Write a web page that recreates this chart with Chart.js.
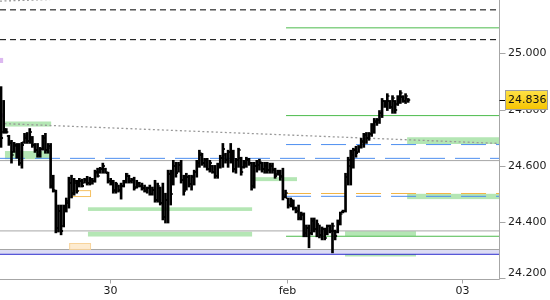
<!DOCTYPE html>
<html>
<head>
<meta charset="utf-8">
<script src="https://cdn.jsdelivr.net/npm/chart.js@4/dist/chart.umd.min.js"></script>
<style>
body { margin: 0; background: #fff; }
#box { width: 550px; height: 300px; }
</style>
</head>
<body>
<div id="box"><canvas id="chart"></canvas></div>
<script>
// price bars, one per period
const highs = [
  24.882, 24.833, 24.733, 24.709, 24.691, 24.684, 24.680, 24.680, 24.684, 24.716,
  24.719, 24.733, 24.705, 24.680, 24.680, 24.666, 24.709, 24.716, 24.680, 24.680,
  24.567, 24.514, 24.461, 24.461, 24.461, 24.486, 24.560, 24.567, 24.556, 24.549,
  24.556, 24.553, 24.556, 24.563, 24.560, 24.556, 24.585, 24.592, 24.595, 24.610,
  24.592, 24.578, 24.556, 24.549, 24.542, 24.532, 24.539, 24.549, 24.574, 24.567,
  24.556, 24.560, 24.549, 24.542, 24.539, 24.532, 24.525, 24.532, 24.525, 24.549,
  24.539, 24.525, 24.539, 24.503, 24.585, 24.585, 24.620, 24.613, 24.613, 24.620,
  24.567, 24.574, 24.567, 24.567, 24.585, 24.620, 24.656, 24.645, 24.627, 24.627,
  24.620, 24.602, 24.602, 24.610, 24.638, 24.680, 24.645, 24.656, 24.680, 24.656,
  24.627, 24.663, 24.631, 24.620, 24.631, 24.627, 24.613, 24.613, 24.620, 24.624,
  24.613, 24.613, 24.613, 24.610, 24.610, 24.592, 24.585, 24.585, 24.592, 24.514,
  24.486, 24.486, 24.479, 24.454, 24.461, 24.436, 24.433, 24.390, 24.390, 24.415,
  24.415, 24.408, 24.390, 24.383, 24.379, 24.390, 24.390, 24.397, 24.372, 24.408,
  24.436, 24.443, 24.574, 24.631, 24.656, 24.663, 24.670, 24.673, 24.698, 24.716,
  24.719, 24.719, 24.751, 24.769, 24.769, 24.797, 24.840, 24.833, 24.857, 24.833,
  24.850, 24.833, 24.850, 24.868, 24.850, 24.857, 24.840
];
const lows = [
  24.666, 24.716, 24.716, 24.673, 24.610, 24.648, 24.627, 24.602, 24.592, 24.680,
  24.680, 24.680, 24.666, 24.648, 24.631, 24.631, 24.656, 24.645, 24.645, 24.521,
  24.507, 24.362, 24.365, 24.355, 24.383, 24.436, 24.450, 24.486, 24.496, 24.503,
  24.525, 24.525, 24.539, 24.532, 24.532, 24.535, 24.542, 24.560, 24.574, 24.574,
  24.574, 24.539, 24.532, 24.503, 24.503, 24.507, 24.482, 24.525, 24.539, 24.539,
  24.539, 24.514, 24.521, 24.525, 24.514, 24.507, 24.503, 24.496, 24.496, 24.471,
  24.471, 24.461, 24.408, 24.397, 24.397, 24.461, 24.532, 24.560, 24.578, 24.539,
  24.496, 24.514, 24.525, 24.514, 24.532, 24.560, 24.595, 24.602, 24.595, 24.585,
  24.578, 24.574, 24.556, 24.556, 24.592, 24.595, 24.610, 24.595, 24.610, 24.578,
  24.574, 24.595, 24.567, 24.592, 24.595, 24.602, 24.514, 24.521, 24.578, 24.585,
  24.578, 24.574, 24.574, 24.574, 24.574, 24.556, 24.567, 24.549, 24.479, 24.486,
  24.450, 24.454, 24.443, 24.433, 24.408, 24.408, 24.348, 24.348, 24.309, 24.355,
  24.365, 24.348, 24.344, 24.337, 24.337, 24.355, 24.362, 24.291, 24.337, 24.362,
  24.390, 24.433, 24.436, 24.532, 24.532, 24.592, 24.631, 24.648, 24.663, 24.666,
  24.680, 24.691, 24.705, 24.716, 24.744, 24.751, 24.772, 24.808, 24.797, 24.804,
  24.787, 24.787, 24.815, 24.822, 24.826, 24.822, 24.826
];
const opens = [
  24.870, 24.720, 24.730, 24.705, 24.685, 24.650, 24.672, 24.645, 24.610, 24.685,
  24.700, 24.690, 24.700, 24.675, 24.655, 24.640, 24.660, 24.700, 24.655, 24.665,
  24.530, 24.510, 24.380, 24.440, 24.385, 24.445, 24.470, 24.540, 24.505, 24.540,
  24.530, 24.545, 24.540, 24.550, 24.540, 24.550, 24.545, 24.575, 24.578, 24.590,
  24.590, 24.575, 24.545, 24.540, 24.515, 24.530, 24.515, 24.530, 24.545, 24.565,
  24.545, 24.550, 24.525, 24.540, 24.530, 24.520, 24.512, 24.520, 24.500, 24.515,
  24.480, 24.520, 24.470, 24.420, 24.480, 24.570, 24.540, 24.600, 24.580, 24.605,
  24.550, 24.515, 24.560, 24.535, 24.560, 24.580, 24.610, 24.640, 24.610, 24.620,
  24.590, 24.600, 24.580, 24.565, 24.600, 24.630, 24.640, 24.620, 24.650, 24.620,
  24.590, 24.620, 24.630, 24.595, 24.610, 24.620, 24.610, 24.530, 24.600, 24.605,
  24.610, 24.590, 24.600, 24.585, 24.600, 24.585, 24.570, 24.575, 24.565, 24.495,
  24.485, 24.460, 24.475, 24.450, 24.440, 24.415, 24.425, 24.360, 24.380, 24.360,
  24.405, 24.375, 24.390, 24.355, 24.375, 24.358, 24.385, 24.370, 24.370, 24.365,
  24.400, 24.435, 24.440, 24.560, 24.600, 24.640, 24.655, 24.650, 24.668, 24.685,
  24.710, 24.700, 24.715, 24.745, 24.755, 24.765, 24.790, 24.830, 24.815, 24.830,
  24.810, 24.830, 24.820, 24.845, 24.845, 24.830, 24.840
];
const closes = [
  24.700, 24.730, 24.720, 24.680, 24.640, 24.675, 24.640, 24.610, 24.675, 24.705,
  24.690, 24.720, 24.675, 24.655, 24.640, 24.660, 24.700, 24.655, 24.670, 24.530,
  24.515, 24.380, 24.440, 24.370, 24.450, 24.475, 24.540, 24.500, 24.545, 24.510,
  24.545, 24.530, 24.550, 24.540, 24.555, 24.545, 24.580, 24.565, 24.590, 24.600,
  24.580, 24.545, 24.540, 24.510, 24.535, 24.515, 24.530, 24.545, 24.570, 24.545,
  24.550, 24.520, 24.540, 24.530, 24.520, 24.512, 24.520, 24.500, 24.515, 24.480,
  24.530, 24.470, 24.420, 24.480, 24.570, 24.500, 24.600, 24.575, 24.605, 24.550,
  24.510, 24.560, 24.535, 24.560, 24.580, 24.610, 24.645, 24.610, 24.620, 24.590,
  24.610, 24.580, 24.565, 24.600, 24.630, 24.660, 24.620, 24.650, 24.620, 24.590,
  24.620, 24.655, 24.580, 24.610, 24.625, 24.610, 24.530, 24.600, 24.605, 24.615,
  24.590, 24.600, 24.585, 24.600, 24.590, 24.565, 24.575, 24.560, 24.490, 24.505,
  24.460, 24.480, 24.450, 24.440, 24.415, 24.430, 24.360, 24.380, 24.360, 24.405,
  24.375, 24.395, 24.355, 24.375, 24.345, 24.385, 24.370, 24.385, 24.350, 24.400,
  24.430, 24.440, 24.560, 24.620, 24.640, 24.655, 24.645, 24.668, 24.690, 24.710,
  24.700, 24.715, 24.745, 24.760, 24.765, 24.790, 24.830, 24.815, 24.850, 24.810,
  24.840, 24.800, 24.845, 24.860, 24.830, 24.850, 24.836
];
const lastPrice = 24.836;

// axis labels
const dayLabels = ["30", "feb", "03"];
const dayStarts = [41.8, 109.6, 176.6];   // in bar index units
const priceTicks = [24.2, 24.4, 24.6, 24.8, 25.0, 25.2];

// view range
const xMin = -0.4, xMax = 190.8;
const yMin = 24.198, yMax = 25.19;

// level lines
const blackDashed = [25.155, 25.049];
const greenLevels = [25.091, 24.779, 24.350];
const greySolid = [24.619, 24.369];
const blueDashedFull = [24.627];
const blueDashedRight = [24.676, 24.492];
const orangeDashedRight = [24.502];
const blueSolid = [24.286];
const rightStart = 109.2;
const trendFrom = [xMin, 24.751], trendTo = [xMax, 24.680];
const topTrendFrom = [xMin, 25.186], topTrendTo = [19, 25.192];

// zones: [from, to, low, high]
const greenZones = [
  [1.5, 19.2, 24.740, 24.758],
  [1.5, 18.8, 24.624, 24.653],
  [96.2, 113.4, 24.546, 24.560],
  [155.6, xMax, 24.678, 24.702],
  [155.6, xMax, 24.482, 24.501],
  [33.3, 96.2, 24.440, 24.453],
  [33.3, 96.2, 24.349, 24.366],
  [131.8, 159.0, 24.351, 24.368],
  [131.8, 159.0, 24.278, 24.286]
];
const bandZone = [xMin, xMax, 24.288, 24.304];
const orangeBox = [27.2, 34.1, 24.493, 24.514];
const peachBox = [26.1, 34.1, 24.305, 24.326];
const purpleMarks = [
  [xMin, 0.8, 24.966, 24.984],
  [xMin, 1.5, 24.772, 24.787]
];

const FONT = "11px 'DejaVu Sans'";

function hLine(v, from, color, dash) {
  return {
    type: "line",
    data: [{x: from, y: v}, {x: xMax, y: v}],
    borderColor: color,
    borderWidth: 1,
    borderDash: dash || [],
    pointRadius: 0,
    order: 2
  };
}

let sets = [];
blackDashed.forEach(v => sets.push(hLine(v, xMin, "#000", [6, 4])));
greenLevels.forEach(v => sets.push(hLine(v, rightStart, "#4cbb4c")));
greySolid.forEach(v => sets.push(hLine(v, xMin, "#a6a6a6")));
blueDashedFull.forEach(v => sets.push(hLine(v, xMin, "#4d8ef0", [25, 10])));
blueDashedRight.forEach(v => sets.push(hLine(v, rightStart, "#4d8ef0", [25, 10])));
orangeDashedRight.forEach(v => sets.push(hLine(v, rightStart, "#f2b546", [25, 10])));
blueSolid.forEach(v => sets.push(hLine(v, xMin, "#2222cc")));
sets.push({
  type: "line",
  data: [{x: trendFrom[0], y: trendFrom[1]}, {x: trendTo[0], y: trendTo[1]}],
  borderColor: "#999", borderWidth: 1.3, borderDash: [2, 2.5], pointRadius: 0, order: 2
});
sets.push({
  type: "line",
  data: [{x: topTrendFrom[0], y: topTrendFrom[1]}, {x: topTrendTo[0], y: topTrendTo[1]}],
  borderColor: "#999", borderWidth: 1.3, borderDash: [2, 2.5], pointRadius: 0, order: 2
});

// high-low bars
sets.push({
  type: "bar",
  data: highs.map((h, i) => ({x: i, y: [lows[i], h]})),
  backgroundColor: "#000",
  barThickness: 2,
  grouped: false,
  order: 0
});

function zoneRect(chart, z) {
  let x = chart.scales.x, y = chart.scales.y;
  let x0 = x.getPixelForValue(z[0]), x1 = x.getPixelForValue(z[1]);
  let y0 = y.getPixelForValue(z[3]), y1 = y.getPixelForValue(z[2]);
  return [x0, y0, x1 - x0, y1 - y0];
}

// zones behind everything
const zonePlugin = {
  id: "zones",
  beforeDatasetsDraw(chart) {
    let ctx = chart.ctx, a = chart.chartArea;
    ctx.save();
    ctx.beginPath();
    ctx.rect(a.left, a.top, a.right - a.left, a.bottom - a.top);
    ctx.clip();

    ctx.fillStyle = "#b4e6b4";
    greenZones.forEach(z => ctx.fillRect(...zoneRect(chart, z)));

    let b = zoneRect(chart, bandZone);
    ctx.fillStyle = "#dcdcf4";
    ctx.fillRect(...b);
    ctx.strokeStyle = "#a6a6a6";
    ctx.lineWidth = 1;
    ctx.beginPath();
    ctx.moveTo(b[0], Math.round(b[1]) + 0.5);
    ctx.lineTo(b[0] + b[2], Math.round(b[1]) + 0.5);
    ctx.stroke();

    let p = zoneRect(chart, peachBox);
    ctx.fillStyle = "#fdebd0";
    ctx.fillRect(...p);
    ctx.strokeStyle = "#f8d49c";
    ctx.strokeRect(p[0] + 0.5, p[1] + 0.5, p[2], p[3]);

    let o = zoneRect(chart, orangeBox);
    ctx.strokeStyle = "#f5c060";
    ctx.strokeRect(o[0] + 0.5, o[1] + 0.5, o[2], o[3]);

    ctx.fillStyle = "#dcb8f0";
    purpleMarks.forEach(z => ctx.fillRect(...zoneRect(chart, z)));
    ctx.restore();
  }
};

// open / close ticks on the bars
const tickPlugin = {
  id: "ohlcTicks",
  afterDatasetsDraw(chart) {
    let ctx = chart.ctx, x = chart.scales.x, y = chart.scales.y;
    ctx.save();
    ctx.fillStyle = "#000";
    opens.forEach((o, i) => {
      let px = x.getPixelForValue(i);
      let yo = Math.round(y.getPixelForValue(o));
      let yc = Math.round(y.getPixelForValue(closes[i]));
      ctx.fillRect(px - 2, yo - 1, 1, 2);
      ctx.fillRect(px + 1, yc - 1, 1, 2);
    });
    ctx.restore();
  }
};

// axes, labels and last price box
const axisPlugin = {
  id: "axes",
  afterDraw(chart) {
    let ctx = chart.ctx, a = chart.chartArea;
    let x = chart.scales.x, y = chart.scales.y;
    let right = Math.round(a.right) + 0.5, bottom = Math.round(a.bottom) + 0.5;
    ctx.save();
    ctx.strokeStyle = "#a6a6a6";
    ctx.lineWidth = 1;
    ctx.beginPath();
    ctx.moveTo(right, 0);
    ctx.lineTo(right, bottom);
    ctx.moveTo(0, bottom);
    ctx.lineTo(right, bottom);
    ctx.stroke();

    ctx.font = FONT;
    ctx.fillStyle = "#1a1a1a";
    ctx.textBaseline = "middle";

    // price axis
    ctx.textAlign = "left";
    priceTicks.forEach(v => {
      let py = y.getPixelForValue(v);
      ctx.beginPath();
      ctx.moveTo(right, Math.round(py) + 0.5);
      ctx.lineTo(right + 6, Math.round(py) + 0.5);
      ctx.stroke();
      let ly = Math.min(py, a.bottom - 6);
      ctx.fillText(v.toFixed(3), a.right + 9, ly);
    });

    // day axis
    ctx.textAlign = "center";
    dayStarts.forEach((d, i) => {
      let px = Math.round(x.getPixelForValue(d)) + 0.5;
      ctx.beginPath();
      ctx.moveTo(px, bottom);
      ctx.lineTo(px, bottom + 4);
      ctx.stroke();
      ctx.fillText(dayLabels[i], px, bottom + 12);
    });

    // last price marker
    let ly = y.getPixelForValue(lastPrice);
    ctx.strokeStyle = "#000";
    ctx.beginPath();
    ctx.moveTo(right, Math.round(ly) + 0.5);
    ctx.lineTo(right + 6, Math.round(ly) + 0.5);
    ctx.stroke();
    let g = ctx.createLinearGradient(0, ly - 10, 0, ly + 10);
    g.addColorStop(0, "#ffe34a");
    g.addColorStop(1, "#f5c400");
    ctx.fillStyle = g;
    ctx.fillRect(a.right + 6, Math.round(ly) - 10, 43, 20);
    ctx.strokeStyle = "#a0a0a0";
    ctx.strokeRect(a.right + 6.5, Math.round(ly) - 9.5, 42, 19);
    ctx.fillStyle = "#111";
    ctx.textAlign = "left";
    ctx.fillText(lastPrice.toFixed(3), a.right + 9, ly + 1);
    ctx.restore();
  }
};

new Chart(document.getElementById("chart"), {
  type: "bar",
  data: { datasets: sets },
  options: {
    responsive: true,
    maintainAspectRatio: false,
    animation: false,
    events: [],
    layout: { padding: { left: 0, top: 0, right: 51, bottom: 21 } },
    plugins: { legend: { display: false }, tooltip: { enabled: false } },
    scales: {
      x: { type: "linear", min: xMin, max: xMax, offset: false, display: false },
      y: { type: "linear", min: yMin, max: yMax, display: false }
    }
  },
  plugins: [zonePlugin, tickPlugin, axisPlugin]
});
</script>
</body>
</html>
